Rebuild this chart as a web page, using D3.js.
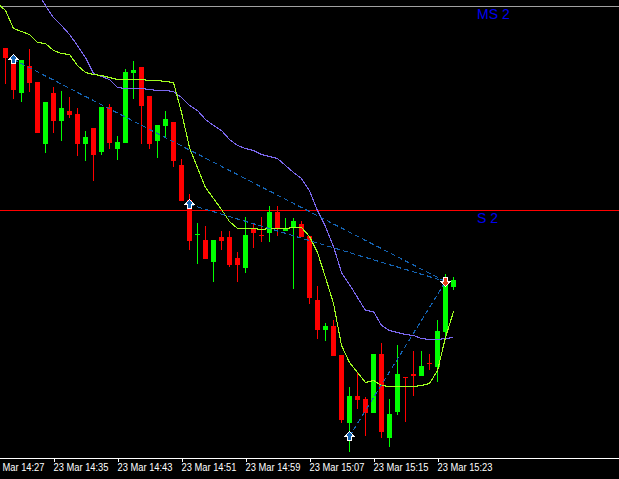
<!DOCTYPE html>
<html><head><meta charset="utf-8">
<script src="https://cdn.jsdelivr.net/npm/d3@7/dist/d3.min.js"></script>
<style>
html,body{margin:0;padding:0;background:#000;overflow:hidden}
svg{display:block}
</style></head><body>
<svg id="chart" width="619" height="479"></svg>
<script>
// 1-minute candles (arbitrary price units)
const opens = [432,418,387,414,398,336,387,359,369,366,336,352,328,373,331,337,407,413,384,339,354,358,315,280,245,240,218,243,243,222,212,251,245,247,268,249,252,256,244,180,150,154,125,57,84,81,67,126,42,68,103,106,104,117,113,148,193];
const highs = [432,425,420,431,398,378,393,389,383,372,349,352,373,376,344,411,419,413,384,355,369,358,321,286,257,254,240,249,249,228,263,257,263,274,274,262,262,259,244,194,157,160,125,93,107,83,126,137,81,135,103,129,129,126,160,206,203];
const lows = [396,381,378,388,347,327,347,339,362,324,319,299,325,331,320,337,381,336,331,322,342,313,279,230,216,221,198,230,213,198,207,232,238,238,244,249,191,243,176,141,139,124,57,28,71,44,67,42,33,65,58,84,104,110,98,140,190];
const closes = [422,390,420,397,347,378,359,372,365,336,343,325,373,337,338,408,410,374,336,355,361,319,279,239,246,221,240,239,215,215,245,247,244,268,252,252,259,243,182,150,154,124,60,84,80,67,126,48,66,106,102,104,114,116,149,200,200];
// moving averages: fast starts one bar before the first candle, slow at bar 4
const fastMA = [477,470,452,449,446,438,437,430,427,426,415,408,406,405,403,401,401,401,401,400,400,399,398,368,333,313,293,282,271,259,252,252,252,251,252,252,252,253,253,244,228,203,177,135,118,108,98,100,95,94,94,94,94,95,97,110,143,169];
const fastStart = -1;
const slowMA = [488,475,463,455,446,435,423,407,404,401,393,392,392,392,391,390,390,389,383,375,370,361,355,350,341,335,332,330,326,324,322,315,308,302,290,270,254,234,208,196,183,170,169,155,150,148,146,145,142,141,141,142,143];
const slowStart = 4;
// zigzag pivots (buy arrows) all joined to the sell arrow
const buyBars = [1,23,43];
const buyPrices = [421,276,44];
const sellBar = 55;
const sellPrice = 199;
// horizontal levels
const levelNames = ["MS 2","S 2"];
const levelPrices = [474,270];
const levelColors = ["#a0a0a0","#ff0000"];
// time axis
const tickBars = [-2,6,14,22,30,38,46,54];
const tickLabels = ["23 Mar 14:27","23 Mar 14:35","23 Mar 14:43","23 Mar 14:51","23 Mar 14:59","23 Mar 15:07","23 Mar 15:15","23 Mar 15:23"];

const W = 619, H = 479, axisY = 458;
const svg = d3.select("#chart");
svg.append("rect").attr("width",W).attr("height",H).attr("fill","#000");

const x = d3.scaleLinear().domain([0,56]).range([5,453]);
const y = d3.scaleLinear().domain([0,480]).range([480,0]);

svg.append("defs").append("clipPath").attr("id","plot")
  .append("rect").attr("width",W).attr("height",axisY);
const plot = svg.append("g").attr("clip-path","url(#plot)");

// levels
plot.selectAll("line.level").data(levelPrices).join("line").attr("class","level")
  .attr("x1",0).attr("x2",W)
  .attr("y1",d=>y(d)+0.5).attr("y2",d=>y(d)+0.5)
  .attr("stroke",(d,i)=>levelColors[i]).attr("stroke-width",1)
  .attr("shape-rendering","crispEdges");

// candles
const bars = opens.map((o,i)=>({i,o,h:highs[i],l:lows[i],c:closes[i]}));
const col = d=>d.c>=d.o?"#00ff00":"#ff0000";
const candles = plot.append("g").attr("shape-rendering","crispEdges");
candles.selectAll("rect.wick").data(bars).join("rect").attr("class","wick")
  .attr("x",d=>x(d.i)).attr("width",1)
  .attr("y",d=>y(d.h)).attr("height",d=>Math.max(1,y(d.l)-y(d.h)))
  .attr("fill",col);
candles.selectAll("rect.body").data(bars).join("rect").attr("class","body")
  .attr("x",d=>x(d.i)-2).attr("width",5)
  .attr("y",d=>y(Math.max(d.o,d.c))).attr("height",d=>Math.max(1,Math.abs(y(d.o)-y(d.c))))
  .attr("fill",col);

// moving averages
const line = d3.line().x(d=>x(d[0])+0.5).y(d=>y(d[1])+0.5);
plot.append("path").datum(slowMA.map((v,k)=>[k+slowStart,v]))
  .attr("d",line).attr("fill","none").attr("stroke","#7b68ee").attr("stroke-width",1.1)
  .attr("shape-rendering","crispEdges");
plot.append("path").datum(fastMA.map((v,k)=>[k+fastStart,v]))
  .attr("d",line).attr("fill","none").attr("stroke","#a0ff20").attr("stroke-width",1.1)
  .attr("shape-rendering","crispEdges");

// zigzag
plot.selectAll("path.zz").data(buyBars).join("path").attr("class","zz")
  .attr("d",(b,i)=>line([[b,buyPrices[i]],[sellBar,sellPrice]]))
  .attr("fill","none").attr("stroke","#1464b4").attr("stroke-width",1.1)
  .attr("stroke-dasharray","5 3").attr("shape-rendering","crispEdges");

// arrows
const arrow = d3.line();
const upShape = [[0,-5],[4.5,0],[2,0],[2,4],[-2,4],[-2,0],[-4.5,0]];
const dnShape = upShape.map(p=>[p[0],-p[1]]);
const shapePath = arrow(upShape)+"Z", dnPath = arrow(dnShape)+"Z";
plot.selectAll("path.buy").data(buyBars).join("path").attr("class","buy")
  .attr("d",shapePath)
  .attr("transform",(b,i)=>`translate(${x(b)+0.5},${y(buyPrices[i])+0.5})`)
  .attr("fill","#1464b4").attr("stroke","#fff").attr("stroke-width",1)
  .attr("shape-rendering","crispEdges");
plot.append("path").attr("d",dnPath)
  .attr("transform",`translate(${x(sellBar)+0.5},${y(sellPrice)+0.5})`)
  .attr("fill","#e8401c").attr("stroke","#fff").attr("stroke-width",1)
  .attr("shape-rendering","crispEdges");

// level labels
svg.selectAll("text.lv").data(levelNames).join("text").attr("class","lv")
  .attr("x",477).attr("y",(d,i)=>y(levelPrices[i])+13)
  .attr("fill","#0000f0").attr("font-family","'Liberation Sans',Arial,sans-serif")
  .attr("font-size","14px").text(d=>d);

// time axis
const axis = d3.axisBottom(x).tickValues(tickBars)
  .tickFormat((d,i)=>tickLabels[i]).tickSize(4);
const ag = svg.append("g").attr("transform",`translate(0,${axisY})`).call(axis);
ag.select(".domain").remove();
ag.selectAll(".tick line").attr("stroke","#fff").attr("shape-rendering","crispEdges")
  .attr("x1",0.5).attr("x2",0.5);
ag.selectAll(".tick text").attr("fill","#fff").attr("text-anchor","start")
  .attr("x",0).attr("y",13).attr("dy",0).attr("font-family","'Liberation Sans',Arial,sans-serif")
  .attr("font-size","11px").attr("textLength",55).attr("lengthAdjust","spacingAndGlyphs");
svg.append("line").attr("x1",0).attr("x2",W).attr("y1",axisY+0.5).attr("y2",axisY+0.5)
  .attr("stroke","#fff").attr("shape-rendering","crispEdges");
</script>
</body></html>
